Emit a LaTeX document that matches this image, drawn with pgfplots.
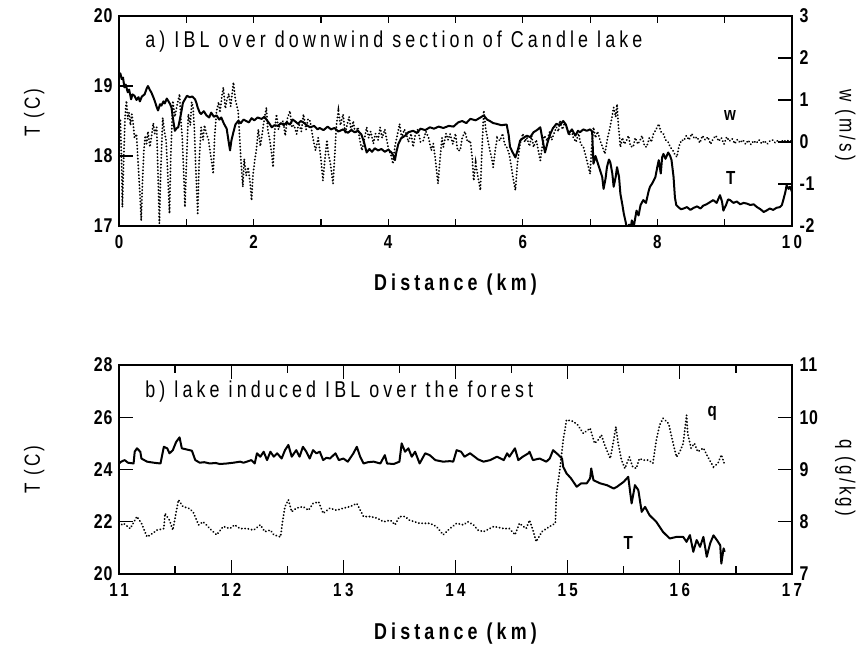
\documentclass[border=0pt]{standalone}
\usepackage{fontspec}
\setmainfont{Liberation Sans}[FakeStretch=0.8]
\newfontfamily\ytickfont{Liberation Sans}[FakeStretch=0.8, LetterSpace=4]
\newfontfamily\xtickfont{Liberation Sans}[FakeStretch=0.8, LetterSpace=18]
\newfontfamily\titlefont{Liberation Sans}[FakeStretch=0.78, LetterSpace=18]
\newfontfamily\labfont{Liberation Sans}[FakeStretch=0.78, LetterSpace=18]
\newfontfamily\ylabfont{Liberation Sans}[FakeStretch=0.78, LetterSpace=14]
\usepackage{pgfplots}
\pgfplotsset{compat=1.18}

\pgfplotsset{
  panel/.style={
    scale only axis, width=673bp,
    axis line style={line width=1.4bp},
    every tick/.style={black, line width=1.2bp},
    tick align=inside,
    major tick length=14bp,
    yticklabel style={font=\ytickfont\bfseries\fontsize{20}{20}\selectfont},
    xticklabel style={font=\xtickfont\bfseries\fontsize{19}{19}\selectfont, yshift=-6bp},
    xlabel style={font=\labfont\bfseries\fontsize{23}{23}\selectfont},
    ylabel style={font=\ylabfont\fontsize{22}{22}\selectfont},
  },
  solidT/.style={black, line width=2bp, line join=round},
  dotq/.style={black, line width=2bp, line cap=round, dash pattern=on 0.1bp off 3.2bp},
}

\begin{document}
\begin{tikzpicture}
\useasboundingbox (0,0) rectangle (857bp,649bp);

% ---------- panel a ----------
\begin{axis}[panel, at={(119bp,423bp)}, anchor=south west, height=210bp,
  xmin=0, xmax=10, ymin=17, ymax=20,
  xtick={0,2,4,6,8,10}, xticklabels={0,2,4,6,8,10},
  minor xtick={1,3,5,7,9}, minor tick length=7bp,
  xtick style={/pgfplots/major tick length=7bp},
  ytick={17,18,19,20}, yticklabels={17,18,19,20}, ytick pos=left,
  yticklabel style={xshift=-3bp},
  xlabel={Distance (km)},
  xlabel style={at={(axis description cs:0.5,-0.28)}, anchor=center},
  ylabel={T (C)},
  ylabel style={at={(axis description cs:-0.126,0.54)}, anchor=center},
]
\addplot[solidT] coordinates {
(0.00,19.15)(0.02,19.18)(0.04,19.10)(0.06,19.12)(0.08,18.98)(0.10,19.02)(0.13,18.91)(0.15,18.95)
(0.18,18.81)(0.20,18.88)(0.23,18.86)(0.26,18.80)(0.29,18.84)(0.31,18.78)(0.34,18.85)(0.38,18.88)
(0.41,18.96)(0.43,19.00)(0.46,18.94)(0.48,18.91)(0.51,18.84)(0.53,18.79)(0.56,18.70)(0.58,18.65)
(0.61,18.74)(0.63,18.72)(0.66,18.78)(0.68,18.75)(0.71,18.82)(0.73,18.79)(0.76,18.74)(0.78,18.69)
(0.80,18.55)(0.83,18.36)(0.86,18.40)(0.88,18.41)(0.90,18.50)(0.93,18.65)(0.95,18.76)(0.98,18.81)
(1.01,18.86)(1.05,18.84)(1.09,18.85)(1.13,18.81)(1.15,18.76)(1.17,18.69)(1.20,18.62)(1.22,18.60)
(1.26,18.64)(1.30,18.58)(1.34,18.55)(1.37,18.62)(1.41,18.56)(1.45,18.58)(1.49,18.52)(1.52,18.55)
(1.56,18.46)(1.60,18.39)(1.63,18.20)(1.65,18.08)(1.67,18.22)(1.70,18.34)(1.73,18.45)(1.77,18.50)
(1.81,18.47)(1.85,18.52)(1.89,18.50)(1.93,18.48)(1.97,18.54)(2.01,18.51)(2.06,18.55)(2.12,18.53)
(2.16,18.56)(2.19,18.52)(2.23,18.47)(2.27,18.41)(2.31,18.44)(2.36,18.43)(2.41,18.47)(2.45,18.44)
(2.49,18.48)(2.54,18.45)(2.58,18.52)(2.61,18.50)(2.66,18.46)(2.70,18.50)(2.74,18.48)(2.79,18.44)
(2.84,18.41)(2.90,18.43)(2.95,18.38)(2.98,18.40)(3.04,18.37)(3.10,18.42)(3.15,18.38)(3.20,18.40)
(3.26,18.35)(3.33,18.38)(3.40,18.33)(3.45,18.37)(3.50,18.34)(3.55,18.36)(3.60,18.31)(3.64,18.20)
(3.68,18.05)(3.72,18.10)(3.76,18.06)(3.80,18.11)(3.85,18.08)(3.90,18.10)(3.95,18.06)(4.00,18.09)
(4.05,18.05)(4.08,18.00)(4.10,17.94)(4.12,18.05)(4.15,18.17)(4.19,18.25)(4.25,18.29)(4.30,18.34)
(4.37,18.36)(4.43,18.33)(4.48,18.39)(4.55,18.37)(4.62,18.41)(4.68,18.39)(4.75,18.42)(4.82,18.40)
(4.90,18.43)(4.97,18.42)(5.04,18.48)(5.10,18.50)(5.16,18.47)(5.22,18.53)(5.30,18.51)(5.37,18.55)
(5.42,18.58)(5.47,18.52)(5.51,18.50)(5.56,18.47)(5.61,18.46)(5.68,18.44)(5.76,18.45)(5.79,18.30)
(5.81,18.13)(5.85,18.05)(5.89,17.98)(5.93,18.10)(5.96,18.22)(6.01,18.26)(6.06,18.29)(6.11,18.27)
(6.16,18.34)(6.21,18.37)(6.26,18.41)(6.29,18.25)(6.33,18.05)(6.37,18.20)(6.41,18.32)(6.45,18.40)
(6.50,18.46)(6.55,18.44)(6.60,18.50)(6.64,18.45)(6.68,18.32)(6.73,18.38)(6.78,18.29)(6.82,18.36)
(6.85,18.34)(6.90,18.38)(6.95,18.36)(7.00,18.38)(7.03,18.35)(7.05,17.89)(7.08,18.00)(7.10,17.94)
(7.13,17.85)(7.15,17.79)(7.18,17.70)(7.20,17.53)(7.23,17.68)(7.25,17.84)(7.28,17.95)(7.30,17.91)
(7.33,17.75)(7.35,17.56)(7.38,17.70)(7.40,17.84)(7.43,17.70)(7.45,17.46)(7.48,17.30)(7.50,17.18)
(7.53,17.05)(7.55,16.95)(7.58,17.02)(7.60,16.95)(7.62,17.08)(7.65,17.00)(7.69,17.22)(7.72,17.15)
(7.75,17.30)(7.79,17.37)(7.83,17.33)(7.87,17.50)(7.89,17.56)(7.93,17.62)(7.97,17.70)(8.00,17.85)
(8.02,17.94)(8.05,17.75)(8.07,17.98)(8.09,18.03)(8.12,17.96)(8.16,18.05)(8.19,18.00)(8.21,17.94)
(8.24,17.70)(8.26,17.41)(8.28,17.30)(8.31,17.27)(8.35,17.24)(8.39,17.25)(8.44,17.27)(8.49,17.23)
(8.54,17.26)(8.59,17.28)(8.64,17.25)(8.68,17.29)(8.73,17.31)(8.78,17.34)(8.83,17.37)(8.88,17.33)
(8.93,17.44)(8.96,17.35)(8.98,17.22)(9.02,17.30)(9.05,17.38)(9.08,17.37)(9.13,17.33)(9.18,17.35)
(9.23,17.31)(9.28,17.33)(9.33,17.32)(9.38,17.30)(9.43,17.31)(9.48,17.27)(9.53,17.24)(9.58,17.20)
(9.62,17.22)(9.67,17.25)(9.72,17.23)(9.77,17.26)(9.82,17.27)(9.85,17.30)(9.87,17.37)(9.90,17.48)
(9.92,17.58)(9.95,17.53)(9.97,17.56)(10.00,17.49)
};
\node[font=\bfseries\fontsize{19}{19}\selectfont] at (axis cs:9.09,17.69) {T};
\node[font=\titlefont\fontsize{23}{23}\selectfont, anchor=west] at (rel axis cs:0.034,0.876) {a) IBL over downwind section of Candle lake};
\end{axis}

\begin{axis}[panel, at={(119bp,423bp)}, anchor=south west, height=210bp,
  xmin=0, xmax=10, ymin=-2, ymax=3, hide x axis,
  ytick={-2,-1,0,1,2,3}, yticklabels={-2,-1,0,1,2,3}, ytick pos=right,
  yticklabel style={xshift=4bp},
  ylabel={w (m/s)},
  ylabel style={at={(axis description cs:1.079,0.48)}, anchor=center, rotate=180},
]
\addplot[dotq] coordinates {
(0.00,0.20)(0.02,0.55)(0.04,-0.60)(0.05,-1.55)(0.07,-0.40)(0.09,0.60)(0.11,0.98)(0.13,0.55)
(0.15,0.70)(0.17,0.40)(0.19,0.66)(0.21,0.45)(0.23,0.10)(0.26,0.19)(0.28,-0.40)(0.31,-1.20)
(0.33,-1.87)(0.35,-0.90)(0.37,-0.20)(0.39,0.15)(0.41,-0.04)(0.43,0.25)(0.46,-0.12)(0.48,0.10)
(0.51,0.45)(0.53,0.20)(0.56,0.35)(0.58,-0.80)(0.60,-1.94)(0.62,-0.70)(0.65,0.58)(0.67,0.30)
(0.70,0.03)(0.72,-0.60)(0.75,-1.70)(0.77,-0.30)(0.80,0.98)(0.83,0.60)(0.86,0.85)(0.90,1.14)
(0.92,0.50)(0.94,0.10)(0.96,-0.70)(0.98,-1.55)(1.00,-0.60)(1.03,0.66)(1.06,0.40)(1.08,0.95)
(1.10,0.82)(1.12,0.30)(1.14,-0.60)(1.17,-1.70)(1.19,-0.50)(1.22,0.35)(1.25,0.05)(1.27,0.40)
(1.30,0.19)(1.33,0.05)(1.36,-0.30)(1.38,-0.50)(1.40,-0.76)(1.42,0.10)(1.45,0.74)(1.48,0.95)
(1.50,0.70)(1.53,1.10)(1.55,1.30)(1.58,0.80)(1.60,0.98)(1.63,1.15)(1.66,0.85)(1.70,1.42)
(1.73,1.00)(1.77,0.74)(1.79,0.20)(1.81,-0.40)(1.84,-1.07)(1.86,-0.40)(1.89,-0.80)(1.92,-0.60)
(1.95,-1.00)(1.97,-1.39)(1.99,-0.80)(2.02,-0.40)(2.04,-0.20)(2.07,0.30)(2.10,-0.10)(2.12,0.11)
(2.15,0.45)(2.19,0.82)(2.21,0.30)(2.24,0.05)(2.27,-0.30)(2.29,-0.60)(2.31,0.20)(2.34,0.66)
(2.37,0.30)(2.40,0.45)(2.44,0.50)(2.47,0.15)(2.50,0.55)(2.54,0.74)(2.57,0.35)(2.60,0.40)
(2.64,0.19)(2.67,0.45)(2.71,0.25)(2.74,0.66)(2.78,0.30)(2.81,0.55)(2.84,0.50)(2.88,0.11)
(2.92,-0.20)(2.96,0.10)(3.00,-0.40)(3.03,-0.92)(3.06,-0.40)(3.09,0.05)(3.11,-0.28)(3.14,-0.50)
(3.18,-0.99)(3.21,-0.20)(3.23,0.40)(3.26,0.74)(3.29,0.40)(3.33,0.66)(3.36,0.20)(3.38,0.35)
(3.42,0.60)(3.45,0.25)(3.48,0.50)(3.51,0.20)(3.55,0.35)(3.58,0.03)(3.61,-0.20)(3.65,0.10)
(3.68,0.35)(3.71,0.10)(3.74,0.25)(3.78,-0.04)(3.81,0.20)(3.85,0.05)(3.88,0.35)(3.91,0.10)
(3.95,0.30)(3.98,0.03)(4.01,-0.20)(4.04,-0.30)(4.07,-0.52)(4.10,-0.10)(4.14,0.20)(4.17,0.43)
(4.20,0.10)(4.24,0.30)(4.27,0.19)(4.30,0.00)(4.34,0.20)(4.37,-0.12)(4.40,0.15)(4.44,0.30)
(4.48,0.00)(4.52,0.03)(4.56,0.25)(4.60,0.10)(4.64,-0.20)(4.67,-0.04)(4.70,-0.40)(4.72,-0.70)
(4.74,-0.99)(4.77,-0.40)(4.80,0.10)(4.82,-0.12)(4.86,0.20)(4.89,0.05)(4.92,0.19)(4.96,-0.05)
(5.00,0.20)(5.03,-0.20)(5.07,-0.20)(5.10,0.10)(5.14,0.25)(5.18,0.00)(5.22,0.03)(5.25,-0.40)
(5.27,-0.92)(5.30,-0.50)(5.33,-0.80)(5.37,-1.15)(5.39,-0.30)(5.42,0.75)(5.45,0.30)(5.48,0.05)
(5.51,-0.20)(5.54,-0.40)(5.56,-0.60)(5.59,-0.20)(5.62,0.10)(5.66,0.03)(5.70,0.20)(5.73,-0.05)
(5.76,-0.12)(5.80,-0.30)(5.83,-0.60)(5.86,-0.90)(5.89,-1.15)(5.92,-0.50)(5.96,-0.04)(6.00,0.20)
(6.03,0.00)(6.06,0.11)(6.10,-0.10)(6.13,0.15)(6.16,-0.12)(6.20,0.05)(6.23,-0.20)(6.26,-0.44)
(6.29,-0.10)(6.32,0.15)(6.36,0.03)(6.40,0.25)(6.43,0.05)(6.46,0.19)(6.50,0.35)(6.53,0.25)
(6.55,0.51)(6.59,0.30)(6.62,0.45)(6.65,0.35)(6.69,0.15)(6.72,0.30)(6.75,0.11)(6.79,0.00)
(6.83,0.20)(6.86,-0.05)(6.90,-0.12)(6.93,-0.30)(6.96,-0.50)(7.00,-0.76)(7.02,-0.20)(7.05,0.35)
(7.08,0.10)(7.11,0.25)(7.15,0.03)(7.18,-0.10)(7.22,-0.28)(7.26,0.10)(7.29,0.30)(7.32,0.55)
(7.35,0.82)(7.38,0.60)(7.40,0.90)(7.42,0.40)(7.45,-0.12)(7.48,0.10)(7.51,-0.05)(7.54,0.03)
(7.57,0.15)(7.60,-0.10)(7.64,-0.12)(7.67,0.10)(7.71,-0.05)(7.74,0.03)(7.77,0.15)(7.81,-0.10)
(7.84,-0.12)(7.88,0.10)(7.91,0.00)(7.94,0.19)(7.98,0.30)(8.02,0.43)(8.05,0.25)(8.09,0.19)
(8.12,0.05)(8.16,0.00)(8.19,-0.12)(8.23,-0.20)(8.26,-0.30)(8.29,-0.36)(8.32,-0.10)(8.36,0.05)
(8.39,0.03)(8.43,0.15)(8.47,0.05)(8.51,0.20)(8.55,0.08)(8.59,0.12)(8.63,-0.02)(8.67,0.15)
(8.71,0.05)(8.75,0.12)(8.79,-0.05)(8.83,0.08)(8.87,0.15)(8.91,0.02)(8.95,0.10)(8.99,-0.05)
(9.03,0.12)(9.07,0.02)(9.11,0.08)(9.15,-0.04)(9.19,0.06)(9.23,-0.02)(9.27,0.05)(9.31,-0.05)
(9.35,0.04)(9.39,-0.06)(9.43,0.03)(9.47,-0.03)(9.51,0.05)(9.55,-0.04)(9.59,0.03)(9.63,-0.05)
(9.67,0.02)(9.71,0.05)(9.75,-0.02)(9.79,0.04)(9.83,-0.01)(9.87,0.05)(9.91,0.01)(9.95,0.04)
(10.00,0.02)
};
\node[font=\bfseries\fontsize{19}{19}\selectfont] at (axis cs:9.08,0.64) {w};
\end{axis}

% ---------- panel b ----------
\begin{axis}[panel, at={(119bp,75bp)}, anchor=south west, height=209bp,
  xmin=11, xmax=17, ymin=20, ymax=28,
  xtick={11,12,...,17}, xticklabels={11,12,13,14,15,16,17},
  minor xtick={11.5,12.5,...,16.5}, minor tick length=8bp,
  ytick={20,22,24,26,28}, yticklabels={20,22,24,26,28}, ytick pos=left,
  yticklabel style={xshift=-3bp},
  xlabel={Distance (km)},
  xlabel style={at={(axis description cs:0.5,-0.285)}, anchor=center},
  ylabel={T (C)},
  ylabel style={at={(axis description cs:-0.126,0.5)}, anchor=center},
]
\addplot[solidT] coordinates {
(11.00,24.23)(11.02,24.30)(11.05,24.36)(11.08,24.26)(11.13,24.23)(11.14,24.68)(11.16,24.81)(11.19,24.68)
(11.20,24.42)(11.25,24.30)(11.31,24.26)(11.37,24.23)(11.40,24.87)(11.43,24.81)(11.45,24.62)(11.48,24.74)
(11.51,25.06)(11.54,25.23)(11.56,24.81)(11.60,24.77)(11.65,24.72)(11.68,24.36)(11.72,24.26)(11.76,24.28)
(11.81,24.23)(11.86,24.25)(11.90,24.21)(11.96,24.23)(12.02,24.26)(12.08,24.30)(12.11,24.26)(12.14,24.30)
(12.18,24.36)(12.21,24.23)(12.23,24.62)(12.26,24.49)(12.29,24.68)(12.32,24.36)(12.35,24.68)(12.38,24.49)
(12.41,24.62)(12.45,24.42)(12.48,24.74)(12.51,24.94)(12.54,24.49)(12.58,24.74)(12.61,24.49)(12.64,24.87)
(12.67,24.68)(12.70,24.42)(12.73,24.74)(12.76,24.62)(12.79,24.68)(12.82,24.36)(12.85,24.45)(12.88,24.42)
(12.93,24.62)(12.96,24.36)(13.00,24.42)(13.04,24.30)(13.09,24.62)(13.12,24.87)(13.15,24.49)(13.18,24.23)
(13.22,24.28)(13.27,24.30)(13.33,24.23)(13.37,24.55)(13.39,24.23)(13.45,24.21)(13.50,24.30)(13.52,25.00)
(13.55,24.68)(13.58,24.81)(13.61,24.49)(13.64,24.68)(13.68,24.23)(13.73,24.62)(13.77,24.55)(13.82,24.36)
(13.89,24.30)(13.95,24.32)(13.98,24.30)(14.01,24.74)(14.05,24.68)(14.08,24.49)(14.13,24.62)(14.17,24.49)
(14.20,24.39)(14.25,24.30)(14.31,24.36)(14.37,24.49)(14.43,24.36)(14.46,24.62)(14.48,24.49)(14.53,24.81)
(14.56,24.36)(14.60,24.49)(14.65,24.62)(14.66,24.68)(14.69,24.36)(14.75,24.42)(14.81,24.30)(14.84,24.42)
(14.87,24.74)(14.92,24.55)(14.95,24.42)(14.96,24.10)(14.99,23.85)(15.03,23.66)(15.08,23.34)(15.12,23.47)
(15.17,23.47)(15.20,23.66)(15.21,24.04)(15.23,23.59)(15.29,23.47)(15.35,23.40)(15.41,23.27)(15.44,23.34)
(15.50,23.53)(15.54,23.72)(15.57,22.70)(15.60,23.40)(15.63,23.21)(15.66,22.38)(15.69,22.57)(15.73,22.25)
(15.79,22.00)(15.85,21.61)(15.91,21.36)(15.97,21.42)(16.03,21.42)(16.06,21.23)(16.09,21.49)(16.12,20.85)
(16.15,21.30)(16.18,21.04)(16.21,21.42)(16.24,20.66)(16.27,21.17)(16.30,21.48)(16.33,21.30)(16.36,21.10)
(16.37,20.40)(16.39,20.98)(16.40,20.85)
};
\node[font=\bfseries\fontsize{19}{19}\selectfont] at (axis cs:15.54,21.18) {T};
\node[font=\titlefont\fontsize{23}{23}\selectfont, anchor=west] at (rel axis cs:0.034,0.871) {b) lake induced IBL over the forest};
\end{axis}

\begin{axis}[panel, at={(119bp,75bp)}, anchor=south west, height=209bp,
  xmin=11, xmax=17, ymin=7, ymax=11, hide x axis,
  ytick={7,8,9,10,11}, yticklabels={7,8,9,10,11}, ytick pos=right,
  yticklabel style={xshift=4bp},
  ylabel={q (g/kg)},
  ylabel style={at={(axis description cs:1.079,0.46)}, anchor=center, rotate=180},
]
\addplot[dotq] coordinates {
(11.00,7.91)(11.04,7.97)(11.10,7.87)(11.16,8.10)(11.20,7.97)(11.25,7.71)(11.28,7.75)(11.34,7.84)
(11.40,7.87)(11.41,8.16)(11.45,8.03)(11.48,7.84)(11.53,8.42)(11.57,8.29)(11.62,8.26)(11.66,8.19)
(11.71,7.94)(11.75,8.00)(11.81,7.87)(11.87,7.75)(11.93,7.91)(11.99,7.87)(12.03,7.94)(12.08,7.87)
(12.14,7.87)(12.20,7.84)(12.26,7.94)(12.30,7.81)(12.35,7.84)(12.38,7.75)(12.44,7.71)(12.46,8.03)
(12.48,8.29)(12.51,8.42)(12.54,8.19)(12.58,8.26)(12.64,8.29)(12.69,8.22)(12.73,8.35)(12.78,8.38)
(12.82,8.16)(12.88,8.26)(12.94,8.22)(13.00,8.26)(13.06,8.29)(13.12,8.35)(13.18,8.10)(13.24,8.10)
(13.30,8.07)(13.36,8.00)(13.42,8.03)(13.46,7.94)(13.50,8.10)(13.55,8.10)(13.59,8.03)(13.68,7.97)
(13.77,7.97)(13.83,7.91)(13.89,7.75)(13.95,7.87)(14.01,7.97)(14.07,7.94)(14.11,8.00)(14.16,7.94)
(14.20,7.84)(14.25,7.81)(14.34,7.91)(14.43,7.87)(14.48,7.87)(14.53,7.75)(14.57,7.97)(14.63,7.87)
(14.66,8.03)(14.69,7.84)(14.72,7.62)(14.77,7.81)(14.84,7.91)(14.89,7.97)(14.90,8.54)(14.93,8.99)
(14.96,9.56)(14.99,9.95)(15.05,9.92)(15.09,9.85)(15.14,9.69)(15.20,9.79)(15.24,9.50)(15.27,9.56)
(15.30,9.66)(15.33,9.47)(15.38,9.21)(15.41,9.56)(15.43,9.82)(15.45,9.50)(15.48,9.18)(15.51,9.02)
(15.55,9.24)(15.58,9.05)(15.61,9.02)(15.64,9.21)(15.67,9.18)(15.72,9.18)(15.76,9.12)(15.79,9.56)
(15.82,9.85)(15.85,9.98)(15.90,9.88)(15.94,9.50)(15.97,9.24)(16.00,9.34)(16.03,9.50)(16.06,10.04)
(16.07,9.69)(16.10,9.41)(16.13,9.50)(16.16,9.34)(16.21,9.41)(16.25,9.24)(16.30,9.05)(16.34,9.12)
(16.37,9.28)(16.40,9.09)
};
\node[font=\bfseries\fontsize{19}{19}\selectfont] at (axis cs:16.29,10.07) {q};
\end{axis}
\end{tikzpicture}
\end{document}
